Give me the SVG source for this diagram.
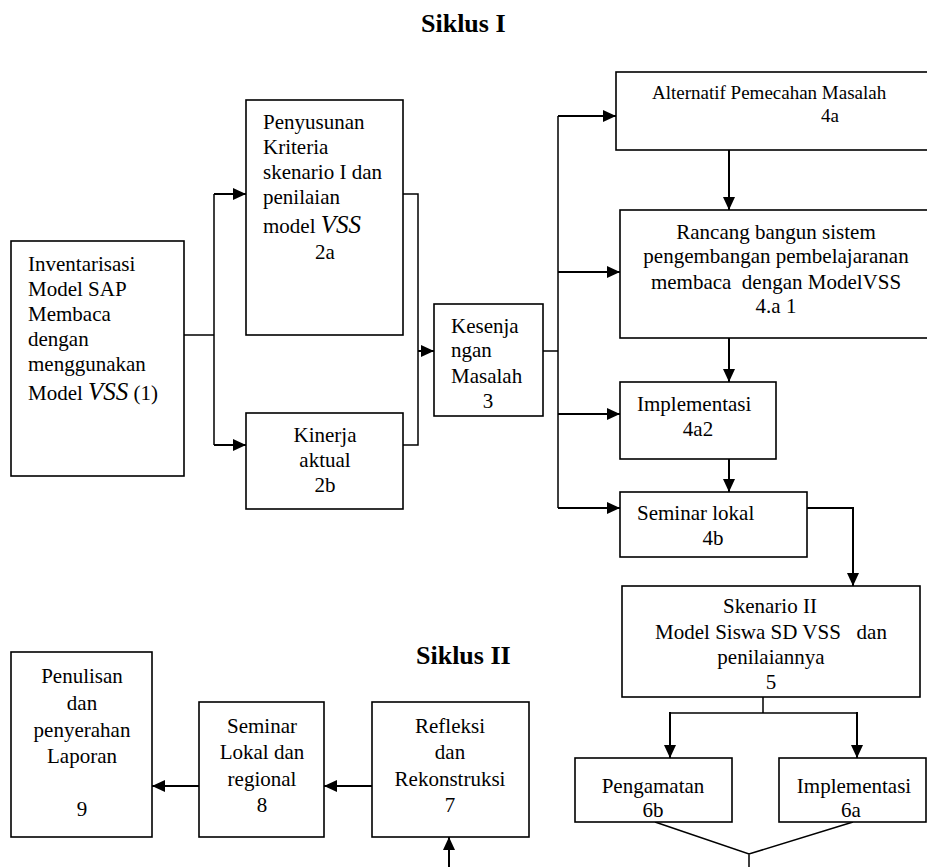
<svg xmlns="http://www.w3.org/2000/svg" width="927" height="867" viewBox="0 0 927 867">
<style>
.bx{fill:#fff;stroke:#000;stroke-width:1.6}
.t{font-family:"Liberation Serif","Times New Roman",serif;font-size:21px;fill:#000;white-space:pre}
.c{text-anchor:middle}
.sm{font-size:19px}
.v{font-style:italic;font-size:25px}
.h{font-family:"Liberation Serif","Times New Roman",serif;font-size:26px;font-weight:bold;fill:#000}
.ln{fill:none;stroke:#000;stroke-width:1.5}
.ar{fill:none;stroke:#000;stroke-width:2;marker-end:url(#ah)}
</style>
<defs>
<marker id="ah" markerUnits="userSpaceOnUse" markerWidth="13" markerHeight="12" refX="13" refY="6" orient="auto">
<path d="M0,0 L13,6 L0,12 z" fill="#000"/>
</marker>
</defs>
<rect width="927" height="867" fill="#fff"/>
<text class="h" x="421" y="32">Siklus I</text>
<text class="h" x="416" y="664">Siklus II</text>

<g id="connectors">
<path class="ln" d="M184,335 H214 M214,194 V445"/>
<path class="ar" d="M214,194 H246"/>
<path class="ar" d="M214,445 H246"/>
<path class="ln" d="M403,194 H418 V445 H403"/>
<path class="ar" d="M418,351 H434"/>
<path class="ln" d="M543,351 H558 M558,116 V508"/>
<path class="ar" d="M558,116 H616"/>
<path class="ar" d="M558,272 H620"/>
<path class="ar" d="M558,414 H620"/>
<path class="ar" d="M558,508 H620"/>
<path class="ar" d="M729,148 V210"/>
<path class="ar" d="M729,337 V382"/>
<path class="ar" d="M729,444 V492"/>
<path class="ar" d="M807,508 H853 V586"/>
<path class="ln" d="M763,697 V713 M670,713 H857"/>
<path class="ar" d="M670,712 V758"/>
<path class="ar" d="M857,712 V758"/>
<path class="ln" d="M655,822 L749,854 L853,822 M749,854 V867"/>
<path class="ar" d="M449,867 V837"/>
<path class="ar" d="M372,786 H324"/>
<path class="ar" d="M199,786 H152"/>
</g>

<g id="n1">
<rect class="bx" x="11" y="241" width="173" height="235"/>
<text class="t" x="28" y="271">Inventarisasi</text>
<text class="t" x="28" y="296">Model SAP</text>
<text class="t" x="28" y="321">Membaca</text>
<text class="t" x="28" y="346">dengan</text>
<text class="t" x="28" y="371">menggunakan</text>
<text class="t" x="28" y="400">Model <tspan class="v">VSS</tspan> (1)</text>
</g>

<g id="n2a">
<rect class="bx" x="246" y="100" width="157" height="235"/>
<text class="t" x="263" y="129">Penyusunan</text>
<text class="t" x="263" y="154">Kriteria</text>
<text class="t" x="263" y="179">skenario I dan</text>
<text class="t" x="263" y="204">penilaian</text>
<text class="t" x="263" y="233">model <tspan class="v">VSS</tspan></text>
<text class="t c" x="325" y="259">2a</text>
</g>

<g id="n2b">
<rect class="bx" x="246" y="413" width="157" height="96"/>
<text class="t c" x="325" y="442">Kinerja</text>
<text class="t c" x="325" y="467">aktual</text>
<text class="t c" x="325" y="492">2b</text>
</g>

<g id="n3">
<rect class="bx" x="434" y="304" width="109" height="112"/>
<text class="t" x="451" y="333">Kesenja</text>
<text class="t" x="451" y="357">ngan</text>
<text class="t" x="451" y="383">Masalah</text>
<text class="t c" x="488" y="408">3</text>
</g>

<g id="n4a">
<rect class="bx" x="616" y="72" width="330" height="78"/>
<text class="t sm" x="652" y="99">Alternatif Pemecahan Masalah</text>
<text class="t sm" x="821" y="122">4a</text>
</g>

<g id="n4a1">
<rect class="bx" x="620" y="210" width="326" height="128"/>
<text class="t c" x="776" y="239">Rancang bangun sistem</text>
<text class="t c" x="776" y="263">pengembangan pembelajaranan</text>
<text class="t c" x="776" y="289">membaca  dengan ModelVSS</text>
<text class="t c" x="776" y="313">4.a 1</text>
</g>

<g id="n4a2">
<rect class="bx" x="620" y="382" width="156" height="77"/>
<text class="t" x="637" y="411">Implementasi</text>
<text class="t c" x="698" y="436">4a2</text>
</g>

<g id="n4b">
<rect class="bx" x="620" y="492" width="187" height="65"/>
<text class="t" x="637" y="520">Seminar lokal</text>
<text class="t c" x="713" y="545">4b</text>
</g>

<g id="n5">
<rect class="bx" x="622" y="586" width="298" height="111"/>
<text class="t c" x="770" y="613">Skenario II</text>
<text class="t c" x="771" y="639">Model Siswa SD VSS   dan</text>
<text class="t c" x="771" y="664">penilaiannya</text>
<text class="t c" x="771" y="689">5</text>
</g>

<g id="n6b">
<rect class="bx" x="575" y="758" width="157" height="64"/>
<text class="t c" x="653" y="793">Pengamatan</text>
<text class="t c" x="653" y="817">6b</text>
</g>

<g id="n6a">
<rect class="bx" x="779" y="758" width="147" height="64"/>
<text class="t c" x="854" y="793">Implementasi</text>
<text class="t c" x="851" y="817">6a</text>
</g>

<g id="n7">
<rect class="bx" x="372" y="702" width="157" height="135"/>
<text class="t c" x="450" y="733">Refleksi</text>
<text class="t c" x="450" y="759">dan</text>
<text class="t c" x="450" y="786">Rekonstruksi</text>
<text class="t c" x="450" y="812">7</text>
</g>

<g id="n8">
<rect class="bx" x="199" y="702" width="125" height="135"/>
<text class="t c" x="262" y="733">Seminar</text>
<text class="t c" x="262" y="759">Lokal dan</text>
<text class="t c" x="262" y="786">regional</text>
<text class="t c" x="262" y="812">8</text>
</g>

<g id="n9">
<rect class="bx" x="11" y="652" width="141" height="185"/>
<text class="t c" x="82" y="683">Penulisan</text>
<text class="t c" x="82" y="710">dan</text>
<text class="t c" x="82" y="737">penyerahan</text>
<text class="t c" x="82" y="763">Laporan</text>
<text class="t c" x="82" y="816">9</text>
</g>
</svg>
